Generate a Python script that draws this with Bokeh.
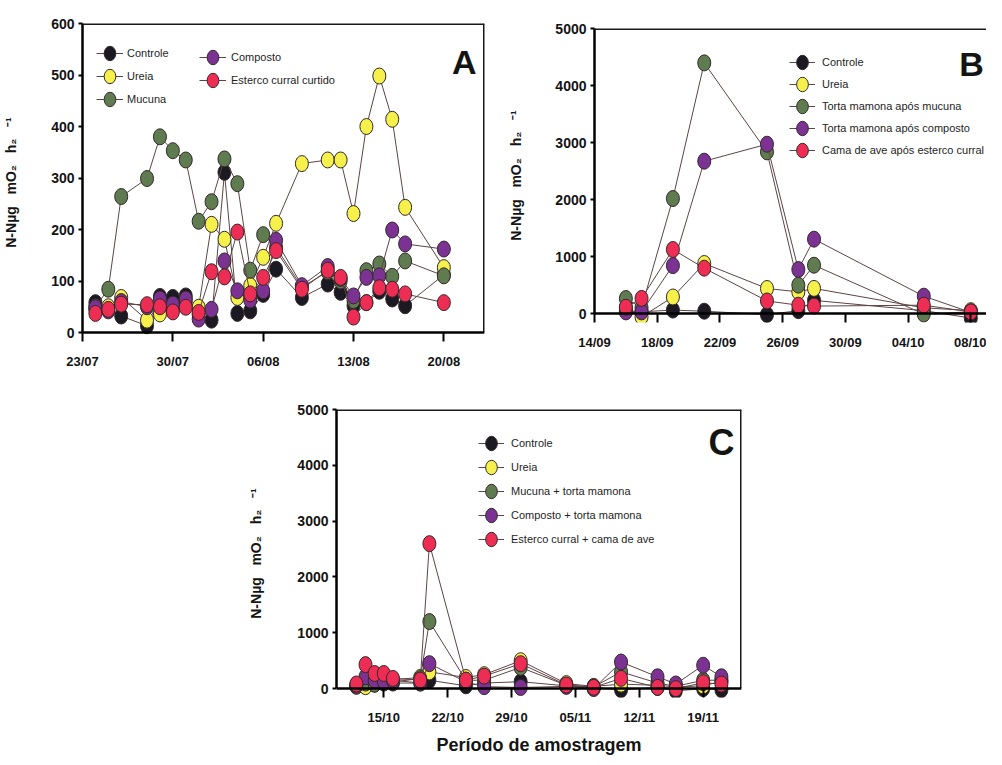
import pandas as pd
from bokeh.plotting import figure
from bokeh.models import (Range1d, LinearAxis, FixedTicker, Legend, LegendItem, Label, Spacer,
                          ColumnDataSource, Span)
from bokeh.layouts import row, column
from bokeh.embed import file_html
from bokeh.resources import INLINE

YEAR = 2009

# ---------------- data ----------------
A_dates = ["24/07", "25/07", "26/07", "28/07", "29/07", "30/07", "31/07", "01/08", "02/08", "03/08", "04/08", "05/08",
           "06/08", "07/08", "09/08", "11/08", "12/08", "13/08", "14/08", "15/08", "16/08", "17/08", "20/08"]
A_names = ["Controle", "Ureia", "Mucuna", "Composto", "Esterco curral curtido"]
A_controle = [58, 45, 32, 13, 70, 68, 71, 35, 24, 311, 37, 42, 74, 123, 68, 94, 78, 52, 58, 80, 65, 52, 112]
A_ureia = [45, 50, 68, 24, 36, 45, 60, 49, 210, 181, 68, 91, 146, 212, 328, 335, 335, 231, 400, 498, 414, 243, 126]
A_mucuna = [50, 84, 264, 299, 380, 353, 335, 216, 254, 337, 289, 121, 190, 165, 88, 118, 100, 62, 120, 133, 109, 139, 110]
A_composto = [48, 42, 60, 50, 65, 55, 65, 26, 45, 139, 81, 63, 81, 179, 91, 128, 105, 71, 107, 110, 199, 172, 162]
A_esterco = [37, 45, 55, 54, 50, 40, 49, 39, 118, 108, 195, 75, 107, 159, 84, 121, 107, 30, 58, 87, 84, 75, 58]
A_ticks = ["23/07", "30/07", "06/08", "13/08", "20/08"]

B_dates = ["16/09", "17/09", "19/09", "21/09", "25/09", "27/09", "28/09", "05/10", "08/10"]
B_names = ["Controle", "Ureia", "Torta mamona após mucuna", "Torta mamona após composto", "Cama de ave após esterco curral"]
B_controle = [50, 30, 60, 40, -20, 50, 230, 50, -80]
B_ureia = [100, -60, 290, 877, 439, 380, 440, 100, 50]
B_mucuna = [263, 100, 2017, 4397, 2835, 497, 847, -10, 30]
B_composto = [28, 28, 840, 2672, 2970, 772, 1304, 304, 20]
B_cama = [110, 265, 1123, 795, 220, 146, 130, 146, 28]
B_ticks = ["14/09", "18/09", "22/09", "26/09", "30/09", "04/10", "08/10"]

C_dates = ["12/10", "13/10", "14/10", "15/10", "16/10", "19/10", "20/10", "24/10", "26/10", "30/10", "04/11",
           "07/11", "10/11", "14/11", "16/11", "19/11", "21/11"]
C_names = ["Controle", "Ureia", "Mucuna + torta mamona", "Composto + torta mamona", "Esterco curral + cama de ave"]
C_controle = [50, 60, 80, 100, 100, 100, 150, 50, 100, 124, 50, 20, -20, 20, -40, 0, -20]
C_ureia = [40, 35, 100, 200, 160, 200, 300, 200, 250, 500, 90, 40, 80, 60, 30, 50, 130]
C_mucuna = [60, 100, 80, 150, 120, 180, 1201, 150, 150, 380, 60, 30, 300, 100, 40, 150, 150]
C_composto = [60, 212, 150, 130, 150, 100, 447, 120, 35, 20, 40, 0, 477, 212, 83, 418, 212]
C_esterco = [83, 430, 271, 271, 183, 153, 2597, 153, 224, 447, 65, 23, 183, 23, 0, 106, 83]
C_ticks = ["15/10", "22/10", "29/10", "05/11", "12/11", "19/11"]

GAP = "\u00a0" * 3
Y_LABEL = GAP.join(["N-Nµg", "mO₂", "h₂", "⁻¹"])
X_LABEL = "Período de amostragem"

# ---------------- style ----------------
COLORS = ["#1b1922", "#f6f04a", "#5f7b50", "#7b3292", "#ee2d55"]
FONT = "Liberation Sans"
LINE_COLOR = "#5e4444"
EDGE = "#33292b"
INK = "#141414"


def ts(d):
    return pd.Timestamp(year=YEAR, month=int(d[3:5]), day=int(d[0:2]))


def ms(t):
    return int(t.value // 1_000_000)


DAY = 86400000.0


def make_panel(dates, series, names, x0, x1, y_top, ystep, zero_px, pad_px,
               width, height, left, right, top, bottom, ticks, right_border,
               letter, letter_px, letter_size, legends, ylabel_standoff, xlabel=None):
    y0 = -pad_px * y_top / zero_px
    p = figure(width=width, height=height, x_axis_type=None, y_axis_type=None,
               x_range=Range1d(x0, x1), y_range=Range1d(y0, y_top),
               output_backend="svg", toolbar_location=None,
               min_border_left=left, min_border_right=right,
               min_border_top=top, min_border_bottom=bottom)
    p.outline_line_color = None
    frame_w = width - left - right

    def px2data(dx, dy):
        return x0 + dx / frame_w * (x1 - x0), y_top - dy / zero_px * y_top

    xs = [ts(d) for d in dates]
    rends = []
    for vals, col in zip(series, COLORS):
        src = ColumnDataSource(dict(x=xs, y=vals))
        lr = p.line("x", "y", source=src, line_color=LINE_COLOR, line_width=1)
        er = p.ellipse("x", "y", source=src, width=13, height=16,
                       width_units="screen", height_units="screen",
                       fill_color=col, line_color=EDGE, line_width=1)
        rends.append((lr, er))

    # bottom axis (ticks only, drawn upward from the frame bottom to the zero line)
    tick_ms = [ms(ts(t)) for t in ticks]
    xa = LinearAxis(ticker=FixedTicker(ticks=tick_ms, minor_ticks=[]),
                    major_label_overrides={v: t for v, t in zip(tick_ms, ticks)})
    xa.axis_line_color = None
    xa.major_tick_in = pad_px
    xa.major_tick_out = 0
    xa.major_tick_line_width = 2
    xa.major_tick_line_color = "black"
    xa.minor_tick_line_color = None
    xa.major_label_standoff = 12
    xa.major_label_text_font = FONT
    xa.major_label_text_font_style = "bold"
    xa.major_label_text_font_size = "13px"
    xa.major_label_text_color = INK
    if xlabel:
        xa.axis_label = xlabel
        xa.axis_label_text_font = FONT
        xa.axis_label_text_font_style = "bold"
        xa.axis_label_text_font_size = "18px"
        xa.axis_label_text_color = INK
        xa.axis_label_standoff = 7
    p.add_layout(xa, "below")

    ya = LinearAxis(bounds=(0, y_top), ticker=FixedTicker(ticks=list(range(0, y_top + 1, ystep)), minor_ticks=[]),
                    axis_label=Y_LABEL)
    ya.axis_line_width = 2.5
    ya.axis_line_color = "black"
    ya.major_tick_line_width = 2
    ya.major_tick_line_color = "black"
    ya.major_tick_in = 0
    ya.major_tick_out = 4
    ya.minor_tick_line_color = None
    ya.major_label_standoff = 4
    ya.major_label_text_font = FONT
    ya.major_label_text_font_style = "bold"
    ya.major_label_text_font_size = "14px"
    ya.major_label_text_color = INK
    ya.axis_label_text_font = FONT
    ya.axis_label_text_font_style = "bold"
    ya.axis_label_text_font_size = "14px"
    ya.axis_label_text_color = INK
    ya.axis_label_standoff = ylabel_standoff
    p.add_layout(ya, "left")

    # zero line, top border, right border
    p.add_layout(Span(location=0, dimension="width", line_color="black", line_width=2.5))
    p.add_layout(Span(location=y_top, dimension="width", line_color="#1a1a1a", line_width=3))
    if right_border:
        p.segment(x0=[x1], y0=[0], x1=[x1], y1=[y_top], line_color="#1a1a1a", line_width=3)

    # legends
    for idx, (lx, ly, gw, sp, stand) in legends:
        items = [LegendItem(label=names[i], renderers=list(rends[i])) for i in idx]
        lg = Legend(items=items, location=(lx, ly), orientation="vertical",
                    label_text_font=FONT, label_text_font_size="11px", label_text_color="#1e1e1e",
                    glyph_width=gw, glyph_height=18, label_height=18, spacing=sp,
                    label_standoff=stand, padding=0, margin=0,
                    border_line_color=None, background_fill_alpha=0)
        p.add_layout(lg)

    lxp, lyp = px2data(*letter_px)
    p.add_layout(Label(x=lxp, y=lyp, text=letter, text_font=FONT, text_font_style="bold",
                       text_font_size=letter_size, text_align="center", text_baseline="middle",
                       text_color=INK))
    return p


H1 = 380
H2 = 757 - H1

# Panel A
a0 = ms(ts("23/07"))
a1 = a0 + 31.15 * DAY
pA = make_panel(A_dates, [A_controle, A_ureia, A_mucuna, A_composto, A_esterco], A_names,
                a0, a1, 600, 100, 309, 9, 505, H1, 78, 21, 23, H1 - 341, A_ticks, True,
                "A", (385.7, 38.7), "34px",
                [([0, 1, 2], (14, 233, 27, 5, 4)), ([3, 4], (117, 251.7, 27, 5, 5))], 29)

# Panel B
b0 = ms(ts("14/09"))
b1 = b0 + 396 / 15.84 * DAY
pB = make_panel(B_dates, [B_controle, B_ureia, B_mucuna, B_composto, B_cama], B_names,
                b0, b1, 5000, 1000, 285, 9, 481, H1, 85, 0, 28, H1 - 322, B_ticks, False,
                "B", (381, 35.7), "34px",
                [([0, 1, 2, 3, 4], (195, 162.7, 26, 4, 7))], 28)

# Panel C
c_ref = ms(ts("15/10"))
c0 = c_ref - 5.18 * DAY
c1 = c_ref + 39.2 * DAY
pC = make_panel(C_dates, [C_controle, C_ureia, C_mucuna, C_composto, C_esterco], C_names,
                c0, c1, 5000, 1000, 283, 9, 516, H2, 90, 20, 409 - H1, H2 - (701 - H1), C_ticks, True,
                "C", (386, 33.5), "36px",
                [([0, 1, 2, 3, 4], (142, 148.7, 26, 6, 7))], 30, xlabel=X_LABEL)

layout = column(row(column(pA), column(pB)), row(Spacer(width=245, height=H2), pC))
open("out.html", "w").write(file_html(layout, INLINE))
